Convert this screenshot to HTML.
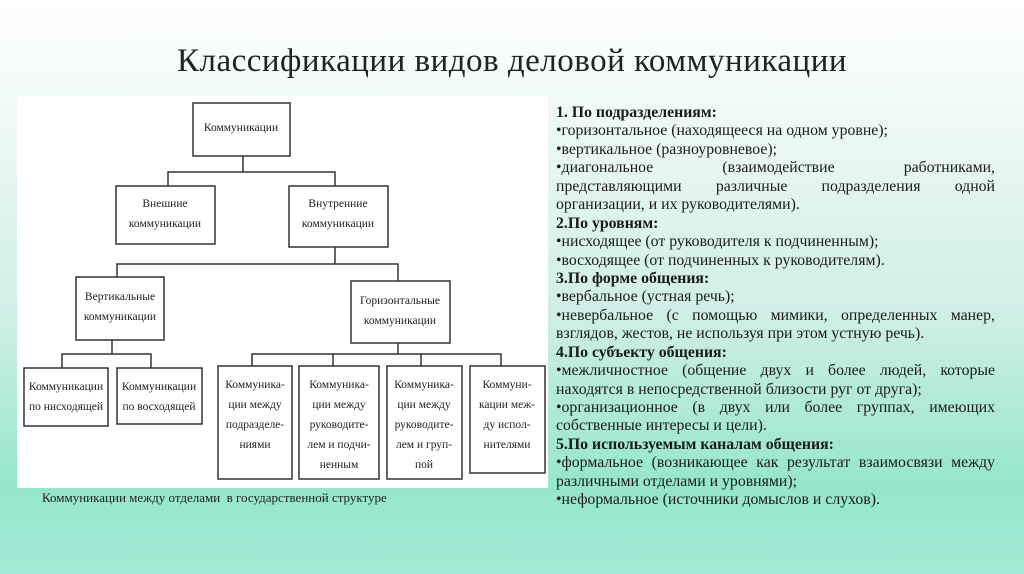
<!DOCTYPE html>
<html><head><meta charset="utf-8"><style>
html,body{margin:0;padding:0}
body{width:1024px;height:574px;overflow:hidden;position:relative;
background:linear-gradient(180deg,#ffffff 0%,#eef9f6 20%,#cfeee6 55%,#95e6cd 85%,#a5ead6 100%);
font-family:"Liberation Serif",serif;color:#111}
.title{position:absolute;left:0;width:1024px;top:43px;text-align:center;font-size:33px;letter-spacing:0.5px;color:#222}
.panel{position:absolute;left:17px;top:96px;width:531px;height:392px;background:#fff}
.cap{position:absolute;left:42px;top:490px;font-size:13px;color:#222}
.txt{position:absolute;left:556px;top:104px;width:439px;font-size:15.8px;line-height:18.45px;color:#1a1a1a;white-space:nowrap}
.txt div{height:18.45px}
.j{text-align:justify;text-align-last:justify;white-space:normal}
</style></head><body>
<div class="title">Классификации видов деловой коммуникации</div>
<div class="panel">
<svg width="531" height="392" viewBox="17 96 531 392" style="position:absolute;left:0;top:0" font-family="Liberation Serif" font-size="11.5" fill="#222" text-anchor="middle">
<g fill="none" stroke="#333" stroke-width="1.5">
<rect x="193" y="103" width="97" height="53"/>
<rect x="116" y="186" width="99" height="58"/>
<rect x="289" y="186" width="99" height="61"/>
<rect x="76" y="277" width="88" height="63"/>
<rect x="351" y="281" width="99" height="62"/>
<rect x="24" y="368" width="84" height="58"/>
<rect x="117" y="368" width="85" height="56"/>
<rect x="218" y="366" width="74" height="113"/>
<rect x="299" y="366" width="80" height="113"/>
<rect x="387" y="366" width="75" height="113"/>
<rect x="470" y="366" width="75" height="107"/>
<path d="M243 156V172M168 186V172H335V186M335 247V264M117 277V264H398V281M112 340V354M62 368V354H151V368M398 343V354M252 366V354H501V366M333 354V366M421 354V366"/>
</g>
<text x="241" y="131">Коммуникации</text>
<text x="165" y="207">Внешние</text><text x="165" y="227">коммуникации</text>
<text x="338" y="207">Внутренние</text><text x="338" y="227">коммуникации</text>
<text x="120" y="300">Вертикальные</text><text x="120" y="320">коммуникации</text>
<text x="400" y="304">Горизонтальные</text><text x="400" y="324">коммуникации</text>
<text x="66" y="390">Коммуникации</text><text x="66" y="410">по нисходящей</text>
<text x="159" y="390">Коммуникации</text><text x="159" y="410">по восходящей</text>
<text x="255" y="388">Коммуника-</text><text x="255" y="408">ции между</text><text x="255" y="428">подразделе-</text><text x="255" y="448">ниями</text>
<text x="339" y="388">Коммуника-</text><text x="339" y="408">ции между</text><text x="339" y="428">руководите-</text><text x="339" y="448">лем и подчи-</text><text x="339" y="468">ненным</text>
<text x="424" y="388">Коммуника-</text><text x="424" y="408">ции между</text><text x="424" y="428">руководите-</text><text x="424" y="448">лем и груп-</text><text x="424" y="468">пой</text>
<text x="507" y="388">Коммуни-</text><text x="507" y="408">кации меж-</text><text x="507" y="428">ду испол-</text><text x="507" y="448">нителями</text>
</svg>
</div>
<div class="cap">Коммуникации между отделами&nbsp; в государственной структуре</div>
<div class="txt">
<div><b>1. По подразделениям:</b></div>
<div>•горизонтальное (находящееся на одном уровне);</div>
<div>•вертикальное (разноуровневое);</div>
<div class="j">•диагональное (взаимодействие работниками,</div>
<div class="j">представляющими различные подразделения одной</div>
<div>организации, и их руководителями).</div>
<div><b>2.По уровням:</b></div>
<div>•нисходящее (от руководителя к подчиненным);</div>
<div>•восходящее (от подчиненных к руководителям).</div>
<div><b>3.По форме общения:</b></div>
<div>•вербальное (устная речь);</div>
<div class="j">•невербальное (с помощью мимики, определенных манер,</div>
<div>взглядов, жестов, не используя при этом устную речь).</div>
<div><b>4.По субъекту общения:</b></div>
<div class="j">•межличностное (общение двух и более людей, которые</div>
<div>находятся в непосредственной близости руг от друга);</div>
<div class="j">•организационное (в двух или более группах, имеющих</div>
<div>собственные интересы и цели).</div>
<div><b>5.По используемым каналам общения:</b></div>
<div class="j">•формальное (возникающее как результат взаимосвязи между</div>
<div>различными отделами и уровнями);</div>
<div>•неформальное (источники домыслов и слухов).</div>
</div>
</body></html>
